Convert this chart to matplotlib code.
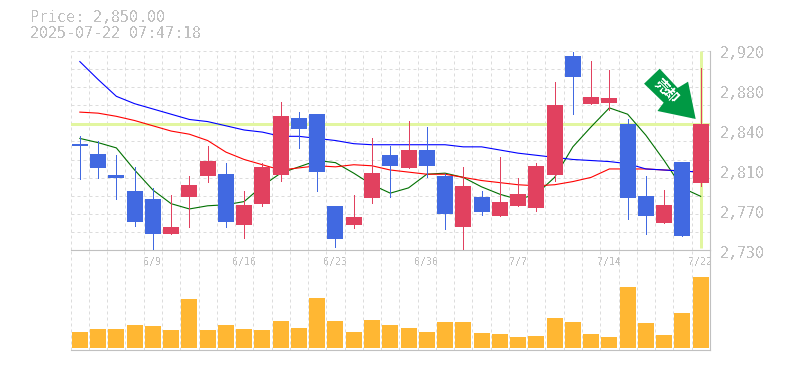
import matplotlib
matplotlib.use("Agg")
import matplotlib.pyplot as plt
from matplotlib.patches import Polygon
from matplotlib.transforms import Affine2D

opens  = [2831,2821,2801,2786,2778,2745,2780,2800,2802,2754,2774,2801,2855,2859,2772,2754,2779,2820,2808,2825,2800,2752,2780,2762,2772,2770,2801,2914,2869,2870,2850,2781,2756,2814,2794]
closes = [2829,2808,2798,2757,2745,2752,2792,2815,2757,2773,2809,2857,2845,2804,2740,2761,2803,2810,2825,2810,2764,2791,2766,2776,2783,2810,2868,2894,2875,2874,2779,2762,2773,2743,2850]
highs  = [2838,2834,2820,2809,2789,2782,2800,2829,2813,2786,2813,2871,2861,2859,2772,2782,2836,2829,2853,2847,2802,2809,2786,2818,2798,2813,2890,2918,2910,2901,2854,2800,2787,2814,2903]
lows   = [2797,2798,2778,2753,2729,2745,2752,2795,2752,2741,2772,2796,2827,2786,2733,2751,2775,2780,2808,2799,2750,2731,2763,2762,2772,2767,2796,2859,2869,2863,2759,2745,2756,2743,2791]
ma5    = [2836,2832,2827,2806,2787,2774,2769,2772,2773,2776,2791,2803,2809,2815,2813,2803,2792,2784,2789,2802,2803,2799,2790,2783,2778,2783,2799,2828,2847,2865,2859,2839,2815,2789,2781]
ma25   = [2861,2860,2857,2853,2848,2843,2840,2834,2823,2816,2811,2806,2808,2810,2809,2811,2810,2806,2804,2802,2802,2799,2796,2794,2792,2791,2792,2795,2799,2807,2807,2807,2806,2805,2804]
ma75   = [2909,2892,2876,2869,2864,2859,2854,2852,2848,2844,2842,2838,2838,2836,2834,2831,2830,2830,2830,2830,2830,2828,2828,2825,2822,2820,2818,2816,2815,2814,2812,2807,2806,2805,2804]
volumes = [16,19,19,23,22,18,49,18,23,19,18,27,20,50,27,16,28,23,20,16,26,26,15,14,11,12,30,26,14,11,61,25,13,35,71]
date_labels = {4:"6/9",9:"6/16",14:"6/23",19:"6/30",24:"7/7",29:"7/14",34:"7/22"}
price_labels = ["2,730","2,770","2,810","2,840","2,880","2,920"]
last_price = 2850
title_lines = ["Price: 2,850.00","2025-07-22 07:47:18"]
arrow_text = "売却"

plt.rcParams["text.antialiased"] = False

UP, DOWN = "#E1415F", "#4169E1"
W, H = 785, 370
GRID = "#dcdcdc"; AXIS = "#c0c0c0"; TXT = "#c0c0c0"; HL = "#e2f6a0"

fig = plt.figure(figsize=(W/100, H/100), dpi=100, facecolor="white")
L, R = 70.7, 709.8
ax = fig.add_axes([L/W, 1-250/H, (R-L)/W, 199/H])
av = fig.add_axes([L/W, 1-350/H, (R-L)/W, 100/H])

n = len(closes)
ymin, ymax = 2730, 2919.05
yticks = [ymin + (ymax-ymin)*k/11 for k in range(12)]
xticks = [i-0.5 for i in range(n+1)]
for a in (ax, av):
    a.set_xlim(-0.5, n-0.5)
    a.set_xticks(xticks)
    a.tick_params(length=0, labelbottom=False, labelleft=False)
    a.grid(True, axis="x", color=GRID, lw=0.72, ls=(0,(3,3)), zorder=0)
    a.set_axisbelow(True)
    for s in ("top","left"):
        a.spines[s].set_visible(False)
    a.spines["right"].set_color(AXIS); a.spines["bottom"].set_color(AXIS)
    a.spines["right"].set_linewidth(0.8); a.spines["bottom"].set_linewidth(0.8)
    a.patch.set_alpha(0)

ax.set_ylim(ymin, ymax)
ax.set_yticks(yticks)
ax.grid(True, axis="y", color=GRID, lw=0.72, ls=(0,(3,3)), zorder=0)

ax.axhline(last_price, color=HL, lw=2.16, zorder=1)
ax.plot([n-1, n-1], [ymin+1.5, ymax], color=HL, lw=2.16, zorder=1, solid_capstyle="butt")

xs = list(range(n))
ax.plot(xs, ma5, color="#007000", lw=0.8, zorder=2)
ax.plot(xs, ma25, color="#ff0000", lw=0.8, zorder=2)
ax.plot(xs, ma75, color="#0000ff", lw=0.8, zorder=2)

for i in xs:
    c = UP if closes[i] >= opens[i] else DOWN
    ax.vlines(i, lows[i], highs[i], color=c, lw=0.72, zorder=3, antialiased=False)
    ax.bar(i, abs(closes[i]-opens[i]), bottom=min(opens[i], closes[i]), width=0.877, color=c, lw=0, zorder=4)

av.set_ylim(-2, 98)
av.set_yticks([])
av.bar(xs, volumes, width=0.877, color="#FFB733", lw=0, zorder=3)

mono = "DejaVu Sans Mono"
for k, s in enumerate(price_labels):
    yv = ymin + (ymax + 0.95 - ymin)*k/5
    ax.annotate(s, (1, yv), xycoords=("axes fraction","data"),
                xytext=(10,-4), textcoords="offset pixels", va="center", ha="left",
                family=mono, fontsize=10.8, color=TXT, annotation_clip=False)
for i, s in date_labels.items():
    ax.annotate(s, (i, ymin), xycoords="data", xytext=(0,-12), textcoords="offset pixels",
                va="center", ha="center", family=mono, fontsize=7.2, color=TXT, annotation_clip=False)

fig.text(30/W, 1-18/H, title_lines[0], family=mono, fontsize=10.8, color=TXT, va="center", ha="left")
fig.text(30/W, 1-33/H, title_lines[1], family=mono, fontsize=10.8, color=TXT, va="center", ha="left")

# arrow shape, in pixels relative to the last candle's close (y up)
fig.canvas.draw()
cx, cy = ax.transData.transform((n-1, closes[-1]))
shape = [(-41,55),(-56.6,40),(-37,21),(-43.2,12.7),(-5,4.7),(-12.6,42),(-23,35.7)]
arrow = Polygon(shape, closed=True, facecolor="#009944", edgecolor="none",
                transform=Affine2D().translate(cx, cy), zorder=6)
fig.add_artist(arrow)
fig.text((cx-34.4)/W, (cy+32.7)/H, arrow_text,
         rotation=-45, rotation_mode="anchor", ha="center", va="center",
         family=["Noto Sans CJK JP","DejaVu Sans"], fontsize=10, fontweight="bold", color="white", zorder=7)

fig.savefig("out.png", dpi=100)
